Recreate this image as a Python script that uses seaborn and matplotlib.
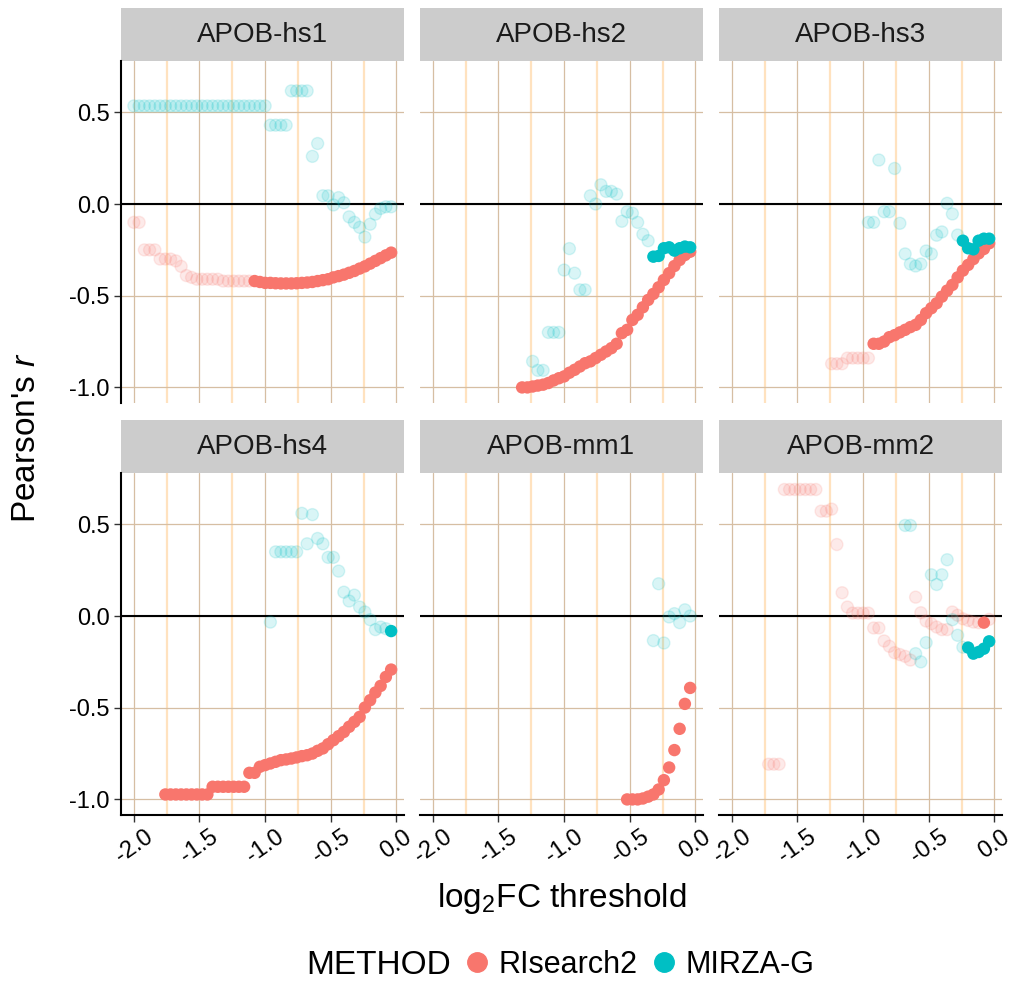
import matplotlib
matplotlib.use("Agg")
import matplotlib.pyplot as plt
from matplotlib.patches import Rectangle
from matplotlib.lines import Line2D
from matplotlib.ticker import FixedLocator
import pandas as pd
import seaborn as sns

# log2FC thresholds (x axis), one correlation per threshold
thresholds = [-2.00, -1.96, -1.92, -1.88, -1.84, -1.80, -1.76, -1.72, -1.68, -1.64,
              -1.60, -1.56, -1.52, -1.48, -1.44, -1.40, -1.36, -1.32, -1.28, -1.24,
              -1.20, -1.16, -1.12, -1.08, -1.04, -1.00, -0.96, -0.92, -0.88, -0.84,
              -0.80, -0.76, -0.72, -0.68, -0.64, -0.60, -0.56, -0.52, -0.48, -0.44,
              -0.40, -0.36, -0.32, -0.28, -0.24, -0.20, -0.16, -0.12, -0.08, -0.04]

panels = ["APOB-hs1", "APOB-hs2", "APOB-hs3", "APOB-hs4", "APOB-mm1", "APOB-mm2"]
methods = ["RIsearch2", "MIRZA-G"]
colors = {"RIsearch2": "#F8766D", "MIRZA-G": "#00BFC4"}

N = None
# Pearson's r per threshold (None = no value)
hs1_rs = [-0.10, -0.10, -0.25, -0.25, -0.25, -0.30, -0.30, -0.30, -0.31, -0.34,
          -0.39, -0.40, -0.41, -0.41, -0.41, -0.41, -0.41, -0.42, -0.42, -0.42,
          -0.42, -0.42, -0.42, -0.42, -0.425, -0.43, -0.43, -0.432, -0.433, -0.433,
          -0.433, -0.432, -0.43, -0.428, -0.425, -0.42, -0.415, -0.41, -0.40, -0.393,
          -0.385, -0.375, -0.365, -0.352, -0.34, -0.325, -0.31, -0.295, -0.28, -0.265]
hs1_mg = [0.535, 0.535, 0.535, 0.535, 0.535, 0.535, 0.535, 0.535, 0.535, 0.535,
          0.535, 0.535, 0.535, 0.535, 0.535, 0.535, 0.535, 0.535, 0.535, 0.535,
          0.535, 0.535, 0.535, 0.535, 0.535, 0.535, 0.43, 0.43, 0.43, 0.43,
          0.617, 0.617, 0.617, 0.617, 0.26, 0.33, 0.045, 0.045, -0.005, 0.035,
          0.007, -0.07, -0.10, -0.127, -0.18, -0.11, -0.055, -0.024, -0.015, -0.015]
hs2_rs = [N, N, N, N, N, N, N, N, N, N,
          N, N, N, N, N, N, N, -1.00, -1.00, -0.995,
          -0.99, -0.985, -0.976, -0.962, -0.95, -0.94, -0.92, -0.904, -0.886, -0.868,
          -0.858, -0.84, -0.822, -0.804, -0.786, -0.762, -0.704, -0.686, -0.632, -0.604,
          -0.563, -0.523, -0.49, -0.454, -0.414, -0.377, -0.338, -0.305, -0.278, -0.26]
hs2_mg = [N, N, N, N, N, N, N, N, N, N,
          N, N, N, N, N, N, N, N, N, -0.858,
          -0.907, -0.907, -0.70, -0.70, -0.70, -0.36, -0.243, -0.377, -0.468, -0.468,
          0.045, 0.0, 0.105, 0.069, 0.069, 0.054, -0.094, -0.042, -0.05, -0.10,
          -0.165, -0.20, -0.287, -0.283, -0.241, -0.236, -0.254, -0.241, -0.232, -0.236]
hs3_rs = [N, N, N, N, N, N, N, N, N, N,
          N, N, N, N, N, N, N, N, N, -0.871,
          -0.871, -0.871, -0.84, -0.84, -0.84, -0.84, -0.84, -0.762, -0.762, -0.75,
          -0.726, -0.715, -0.70, -0.686, -0.671, -0.659, -0.632, -0.595, -0.568, -0.541,
          -0.505, -0.472, -0.441, -0.40, -0.363, -0.332, -0.30, -0.269, -0.245, -0.214]
hs3_mg = [N, N, N, N, N, N, N, N, N, N,
          N, N, N, N, N, N, N, N, N, N,
          N, N, N, N, N, N, -0.10, -0.10, 0.24, -0.042,
          -0.042, 0.194, -0.105, -0.272, -0.327, -0.338, -0.327, -0.256, -0.272, -0.17,
          -0.152, 0.004, -0.054, -0.169, -0.20, -0.241, -0.247, -0.20, -0.189, -0.189]
hs4_rs = [N, N, N, N, N, N, -0.973, -0.973, -0.973, -0.973,
          -0.973, -0.973, -0.973, -0.973, -0.973, -0.931, -0.931, -0.931, -0.931, -0.931,
          -0.931, -0.931, -0.855, -0.855, -0.822, -0.813, -0.804, -0.795, -0.786, -0.782,
          -0.777, -0.771, -0.764, -0.759, -0.75, -0.735, -0.722, -0.699, -0.677, -0.655,
          -0.632, -0.604, -0.577, -0.55, -0.499, -0.459, -0.417, -0.381, -0.332, -0.292]
hs4_mg = [N, N, N, N, N, N, N, N, N, N,
          N, N, N, N, N, N, N, N, N, N,
          N, N, N, N, N, N, -0.033, 0.35, 0.35, 0.35,
          0.35, 0.35, 0.56, 0.394, 0.553, 0.423, 0.394, 0.32, 0.32, 0.245,
          0.13, 0.082, 0.114, 0.049, 0.022, -0.02, -0.074, -0.06, -0.069, -0.082]
mm1_rs = [N, N, N, N, N, N, N, N, N, N,
          N, N, N, N, N, N, N, N, N, N,
          N, N, N, N, N, N, N, N, N, N,
          N, N, N, N, N, N, N, -1.00, -1.00, -1.00,
          -0.995, -0.985, -0.973, -0.946, -0.895, -0.826, -0.731, -0.615, -0.479, -0.392]
mm1_mg = [N, N, N, N, N, N, N, N, N, N,
          N, N, N, N, N, N, N, N, N, N,
          N, N, N, N, N, N, N, N, N, N,
          N, N, N, N, N, N, N, N, N, N,
          N, N, -0.134, 0.176, -0.147, -0.005, 0.013, -0.036, 0.034, 0.0]
mm2_rs = [N, N, N, N, N, N, N, -0.808, -0.808, -0.808,
          0.69, 0.69, 0.69, 0.69, 0.69, 0.69, 0.69, 0.572, 0.572, 0.583,
          0.39, 0.127, 0.049, 0.016, 0.016, 0.016, 0.016, -0.065, -0.065, -0.136,
          -0.165, -0.20, -0.21, -0.22, -0.24, 0.103, 0.018, -0.027, -0.042, -0.06,
          -0.074, -0.074, 0.022, 0.004, -0.015, -0.024, -0.033, -0.036, -0.036, -0.018]
mm2_mg = [N, N, N, N, N, N, N, N, N, N,
          N, N, N, N, N, N, N, N, N, N,
          N, N, N, N, N, N, N, N, N, N,
          N, N, N, 0.494, 0.494, -0.205, -0.25, -0.145, 0.225, 0.172,
          0.225, 0.307, -0.02, -0.105, -0.17, -0.172, -0.205, -0.196, -0.178, -0.138]

# threshold range (inclusive) where the correlation is significant (solid points)
solid_range = {
    ("APOB-hs1", "RIsearch2"): (-1.08, -0.04),
    ("APOB-hs2", "RIsearch2"): (-1.32, -0.04),
    ("APOB-hs2", "MIRZA-G"): (-0.32, -0.04),
    ("APOB-hs3", "RIsearch2"): (-0.92, -0.04),
    ("APOB-hs3", "MIRZA-G"): (-0.24, -0.04),
    ("APOB-hs4", "RIsearch2"): (-1.76, -0.04),
    ("APOB-hs4", "MIRZA-G"): (-0.04, -0.04),
    ("APOB-mm1", "RIsearch2"): (-0.52, -0.04),
    ("APOB-mm2", "RIsearch2"): (-0.08, -0.08),
    ("APOB-mm2", "MIRZA-G"): (-0.20, -0.04),
}

series = {
    ("APOB-hs1", "RIsearch2"): hs1_rs, ("APOB-hs1", "MIRZA-G"): hs1_mg,
    ("APOB-hs2", "RIsearch2"): hs2_rs, ("APOB-hs2", "MIRZA-G"): hs2_mg,
    ("APOB-hs3", "RIsearch2"): hs3_rs, ("APOB-hs3", "MIRZA-G"): hs3_mg,
    ("APOB-hs4", "RIsearch2"): hs4_rs, ("APOB-hs4", "MIRZA-G"): hs4_mg,
    ("APOB-mm1", "RIsearch2"): mm1_rs, ("APOB-mm1", "MIRZA-G"): mm1_mg,
    ("APOB-mm2", "RIsearch2"): mm2_rs, ("APOB-mm2", "MIRZA-G"): mm2_mg,
}

rows = []
for (panel, method), ys in series.items():
    lo, hi = solid_range.get((panel, method), (1.0, 1.0))
    for x, y in zip(thresholds, ys):
        if y is None:
            continue
        rows.append({"panel": panel, "METHOD": method, "threshold": x, "r": y,
                     "sig": (lo - 1e-9) <= x <= (hi + 1e-9)})
df = pd.DataFrame(rows)

sns.set_theme(style="white")
plt.rcParams["font.family"] = ["Liberation Sans", "DejaVu Sans"]
plt.rcParams["mathtext.fontset"] = "custom"
plt.rcParams["mathtext.rm"] = "Liberation Sans"
plt.rcParams["mathtext.it"] = "Liberation Sans:italic"
plt.rcParams["axes.unicode_minus"] = False
plt.rcParams["text.color"] = "black"

W, H = 1020, 981
fig, axes = plt.subplots(2, 3, figsize=(W / 100, H / 100), dpi=100, sharex=True, sharey=True)
fig.subplots_adjust(left=121 / W, right=1002 / W, top=1 - 61 / H, bottom=1 - 815 / H,
                    wspace=16 / 283, hspace=70 / 342)

strip_h = 53 / 342
for k, panel in enumerate(panels):
    row, col = divmod(k, 3)
    ax = axes[row, col]
    sub = df[df.panel == panel]

    ax.set_axisbelow(True)
    ax.set_xlim(-2.098, 0.058)
    ax.set_ylim(-1.085, 0.78)
    ax.set_xticks([-2.0, -1.5, -1.0, -0.5, 0.0])
    ax.xaxis.set_minor_locator(FixedLocator([-1.75, -1.25, -0.75, -0.25]))
    ax.set_yticks([-1.0, -0.5, 0.0, 0.5])
    ax.grid(which="minor", axis="x", color="#FFE2BF", lw=1.6)
    ax.grid(which="major", axis="both", color="#D6BEA3", lw=0.9)
    ax.axhline(0, color="black", lw=1.5, zorder=1.5)

    sns.scatterplot(data=sub[~sub.sig], x="threshold", y="r", hue="METHOD",
                    hue_order=methods, palette=colors, s=75, alpha=0.15,
                    edgecolor="face", linewidth=1, legend=False, zorder=2, ax=ax)
    sns.scatterplot(data=sub[sub.sig], x="threshold", y="r", hue="METHOD",
                    hue_order=methods, palette=colors, s=80, linewidth=0,
                    legend=False, zorder=3, ax=ax)
    ax.set_xlabel("")
    ax.set_ylabel("")

    for side in ["top", "right", "left", "bottom"]:
        ax.spines[side].set_visible(False)
    if col == 0:
        ax.spines["left"].set_visible(True)
        ax.spines["left"].set_color("black")
        ax.spines["left"].set_linewidth(1.5)
    if row == 1:
        ax.spines["bottom"].set_visible(True)
        ax.spines["bottom"].set_color("black")
        ax.spines["bottom"].set_linewidth(1.5)

    ax.tick_params(axis="y", which="major", left=(col == 0), labelleft=(col == 0),
                   length=5, width=1, color="#333333", labelcolor="black",
                   labelsize=17, pad=3)
    ax.tick_params(axis="x", which="major", bottom=(row == 1), labelbottom=(row == 1),
                   length=5, width=1, color="#333333", labelcolor="black",
                   labelsize=17, pad=3)
    ax.tick_params(which="minor", length=0)
    ax.set_yticklabels(["-1.0", "-0.5", "0.0", "0.5"])
    if row == 1:
        ax.set_xticklabels(["-2.0", "-1.5", "-1.0", "-0.5", "0.0"], rotation=35, ha="center")

    # facet strip
    ax.add_patch(Rectangle((0, 1), 1, strip_h, transform=ax.transAxes,
                           facecolor="#CCCCCC", edgecolor="none", clip_on=False))
    ax.text(0.5, 1 + strip_h / 2, panel, transform=ax.transAxes, ha="center",
            va="center", fontsize=20, color="#1A1A1A")

fig.text(27 / W, 1 - 438 / H, "Pearson's $r$", rotation=90, ha="center", va="center", fontsize=24)
fig.text(561.5 / W, 1 - 898 / H, "log$_2$FC threshold", ha="center", va="center", fontsize=24)

# legend along the bottom
fig.text(306 / W, 1 - 965 / H, "METHOD", ha="left", va="center", fontsize=24)
handles = [Line2D([], [], marker="o", ls="", markersize=14, color=colors[m]) for m in methods]
fig.legend(handles, methods, loc="center left", bbox_to_anchor=(462 / W, 1 - 965 / H),
           ncol=2, frameon=False, fontsize=22, handletextpad=0.2, columnspacing=0.35,
           handlelength=1.0, borderaxespad=0, borderpad=0)

fig.savefig("out.png", dpi=100)
